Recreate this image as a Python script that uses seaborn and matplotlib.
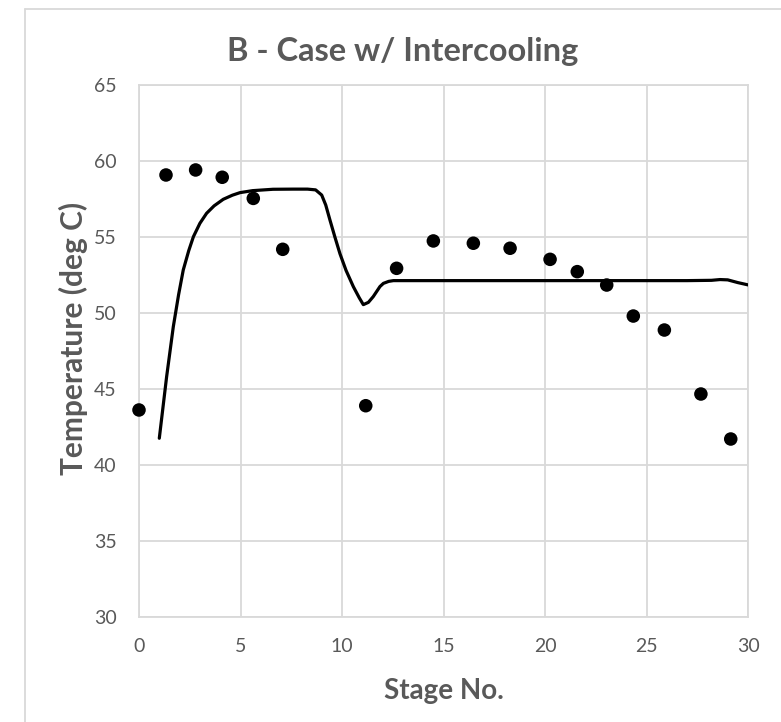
import matplotlib
matplotlib.use("Agg")
import matplotlib.pyplot as plt
from matplotlib.lines import Line2D
import seaborn as sns
import pandas as pd

# Measured stage temperatures
stage_meas = [0.0, 1.33, 2.79, 4.10, 5.63, 7.08, 11.17, 12.69, 14.50, 16.47,
              18.28, 20.25, 21.59, 23.04, 24.35, 25.88, 27.68, 29.15]
temp_meas = [43.62, 59.08, 59.41, 58.93, 57.54, 54.19, 43.90, 52.94, 54.74, 54.59,
             54.26, 53.53, 52.72, 51.84, 49.80, 48.88, 44.67, 41.71]

# Model temperature profile
stage_model = [1.0, 1.36, 1.69, 1.95, 2.18, 2.45, 2.68, 3.0, 3.33, 3.7,
               4.15, 4.6, 4.98, 5.6, 6.6, 7.6, 8.3, 8.7, 9.0, 9.2,
               9.41, 9.65, 9.9, 10.2, 10.56, 10.85, 11.05, 11.3, 11.54, 11.87,
               12.04, 12.3, 12.53, 13.0, 20.0, 27.0, 28.2, 28.62, 29.0, 29.5, 30.0]
temp_model = [41.76, 45.8, 49.1, 51.2, 52.83, 54.1, 55.02, 55.9, 56.56, 57.05,
              57.48, 57.75, 57.92, 58.05, 58.14, 58.15, 58.15, 58.1, 57.76, 57.1,
              56.1, 55.0, 53.9, 52.8, 51.73, 51.0, 50.55, 50.7, 51.08, 51.74,
              51.95, 52.08, 52.13, 52.13, 52.13, 52.13, 52.15, 52.2, 52.18, 52.0, 51.85]

x_ticks = [0, 5, 10, 15, 20, 25, 30]
y_ticks = [30, 35, 40, 45, 50, 55, 60, 65]

meas = pd.DataFrame({"stage": stage_meas, "temp": temp_meas})
model = pd.DataFrame({"stage": stage_model, "temp": temp_model})

sns.set_theme(style="white")
plt.rcParams["font.family"] = ["Lato", "DejaVu Sans"]

text_gray = "#595959"
grid_gray = "#d9d9d9"

fig = plt.figure(figsize=(7.81, 7.22), dpi=100)
ax = fig.add_axes([139 / 781, 1 - 617 / 722, (748 - 139) / 781, (617 - 85) / 722])

sns.lineplot(data=model, x="stage", y="temp", ax=ax, color="black",
             linewidth=2.3, sort=False, estimator=None, zorder=3)
sns.scatterplot(data=meas, x="stage", y="temp", ax=ax, color="black",
                s=95, edgecolor="none", zorder=4, clip_on=False)

ax.set_xlim(0, 30)
ax.set_ylim(30, 65)
ax.set_xticks(x_ticks)
ax.set_yticks(y_ticks)
ax.grid(True, color=grid_gray, linewidth=1.3)
ax.set_axisbelow(True)
for sp in ax.spines.values():
    sp.set_color(grid_gray)
    sp.set_linewidth(1.3)
ax.tick_params(axis="both", length=0, labelsize=14, labelcolor=text_gray)
ax.tick_params(axis="x", pad=15)
ax.tick_params(axis="y", pad=16)

ax.set_xlabel("Stage No.", fontsize=20, fontweight="bold", color=text_gray, labelpad=17)
ax.set_ylabel("Temperature (deg C)", fontsize=21.5, fontweight="bold", color=text_gray)
ax.yaxis.set_label_coords(-0.083, 0.523)
fig.text(403 / 781, 1 - 52 / 722, "B - Case w/ Intercooling", fontsize=23.5,
         fontweight="bold", color=text_gray, ha="center", va="center")

# Chart area border
fig.add_artist(Line2D([25 / 781, 25 / 781], [0, 1 - 9 / 722], transform=fig.transFigure,
                      color=grid_gray, linewidth=1.3))
fig.add_artist(Line2D([25 / 781, 1], [1 - 9 / 722, 1 - 9 / 722], transform=fig.transFigure,
                      color=grid_gray, linewidth=1.3))

fig.savefig("out.png", dpi=100, facecolor="white")
